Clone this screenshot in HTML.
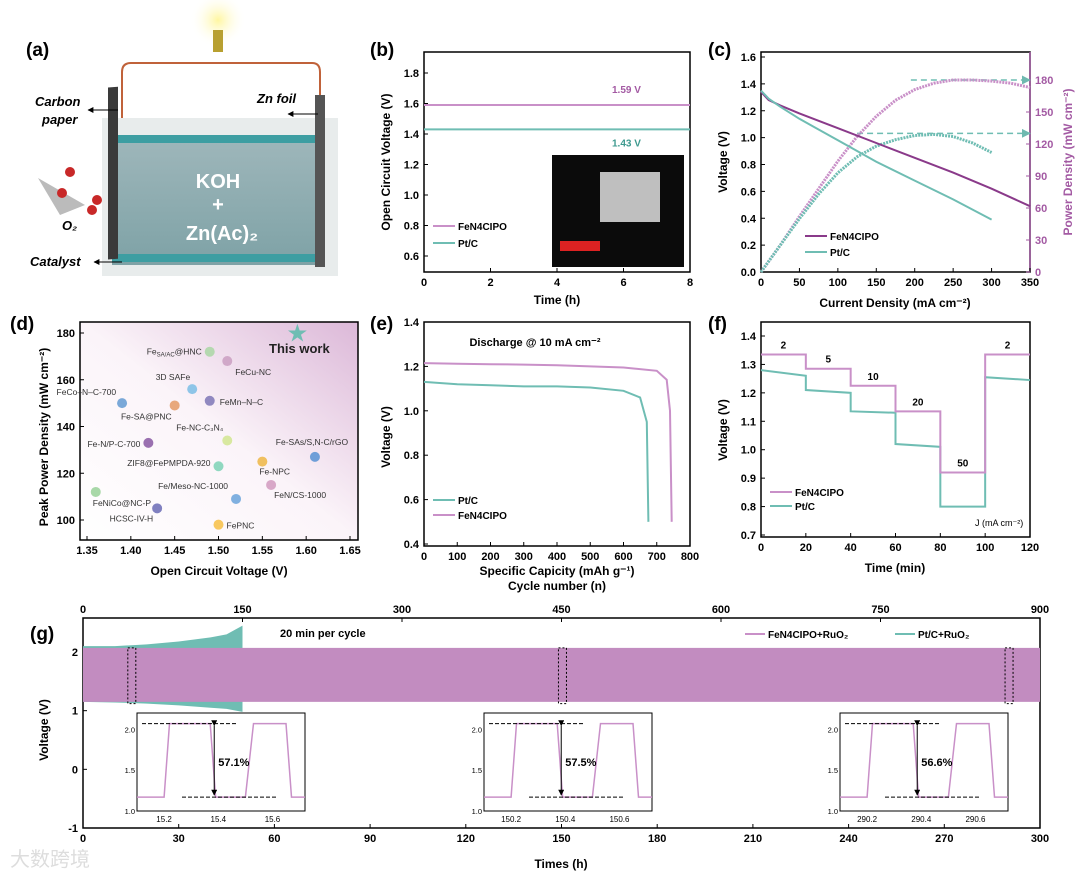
<!DOCTYPE html>
<html><head><meta charset="utf-8"><style>
body{margin:0;background:#fff}
svg text{font-family:"Liberation Sans","Noto Sans CJK SC",sans-serif}
</style></head><body>
<svg id="s" width="1080" height="876" viewBox="0 0 1080 876" xmlns="http://www.w3.org/2000/svg">
<defs>
<linearGradient id="liq" x1="0" y1="0" x2="0" y2="1"><stop offset="0" stop-color="#9fb7bb"/><stop offset="1" stop-color="#7ea2a6"/></linearGradient>
<linearGradient id="dbg" x1="0" y1="1" x2="1" y2="0"><stop offset="0" stop-color="#fff"/><stop offset="0.5" stop-color="#fbf4f9"/><stop offset="1" stop-color="#dcb8d8"/></linearGradient>
<radialGradient id="bulb"><stop offset="0" stop-color="#fff6a0"/><stop offset="1" stop-color="#fff" stop-opacity="0"/></radialGradient>
<marker id="ah" viewBox="0 0 10 10" refX="9" refY="5" markerWidth="6" markerHeight="6" orient="auto"><path d="M0,0L10,5L0,10z" fill="#000"/></marker>
<marker id="ahg" viewBox="0 0 10 10" refX="9" refY="5" markerWidth="6" markerHeight="6" orient="auto"><path d="M0,0L10,5L0,10z" fill="#6fb9b0"/></marker>
</defs>
<g>
<text x="26" y="56" font-size="19" font-weight="bold">(a)</text>
<circle cx="218" cy="20" r="28" fill="url(#bulb)"/>
<rect x="213" y="30" width="10" height="22" fill="#b8a030"/>
<path d="M122,135 V72 Q122,63 131,63 H312 Q320,63 320,72 V130" fill="none" stroke="#c0623a" stroke-width="2"/>
<rect x="102" y="118" width="236" height="158" fill="#e8ecec"/>
<rect x="112" y="135" width="212" height="130" fill="url(#liq)"/>
<rect x="112" y="135" width="212" height="8" fill="#3d9ea2"/>
<rect x="112" y="254" width="212" height="8" fill="#3d9ea2"/>
<rect x="108" y="95" width="10" height="172" fill="#3a3a3a" transform="skewY(-4)"/>
<rect x="315" y="95" width="10" height="172" fill="#555"/>
<text x="218" y="188" font-size="20" font-weight="bold" fill="#fff" text-anchor="middle">KOH</text>
<text x="218" y="211" font-size="20" font-weight="bold" fill="#fff" text-anchor="middle">+</text>
<text x="222" y="240" font-size="20" font-weight="bold" fill="#fff" text-anchor="middle">Zn(Ac)₂</text>
<text x="35" y="106" font-size="13" font-weight="bold" font-style="italic">Carbon</text>
<text x="42" y="124" font-size="13" font-weight="bold" font-style="italic">paper</text>
<line x1="118" y1="110" x2="88" y2="110" stroke="#000" marker-end="url(#ah)"/>
<text x="257" y="103" font-size="13" font-weight="bold" font-style="italic">Zn foil</text>
<line x1="318" y1="114" x2="288" y2="114" stroke="#000" marker-end="url(#ah)"/>
<text x="30" y="266" font-size="13" font-weight="bold" font-style="italic">Catalyst</text>
<line x1="122" y1="262" x2="94" y2="262" stroke="#000" marker-end="url(#ah)"/>
<text x="62" y="230" font-size="13" font-weight="bold" font-style="italic">O₂</text>
<path d="M38,178 L85,205 L60,215z" fill="#bbb"/>
<circle cx="70" cy="172" r="5" fill="#c82828"/><circle cx="62" cy="193" r="5" fill="#c82828"/><circle cx="92" cy="210" r="5" fill="#c82828"/><circle cx="97" cy="200" r="5" fill="#c82828"/>
</g>
<g id="charts"></g>
</svg>
<script>
// ---- data ----
const bTime=[0,8];
const bFe=[1.59,1.59];
const bPt=[1.43,1.43];
const cJFe=[0,10,25,50,100,150,200,250,300,350];
const cVFe=[1.34,1.28,1.24,1.18,1.07,0.96,0.85,0.74,0.62,0.49];
const cJPt=[0,10,25,50,100,150,200,250,300];
const cVPt=[1.35,1.29,1.23,1.14,0.98,0.82,0.68,0.54,0.39];
const cPJFe=[0,25,50,75,100,125,150,175,200,225,250,275,300,325,350];
const cPFe=[0,25,52,78,104,127,146,161,171,177,180,180,179,177,173];
const cPJPt=[0,25,50,75,100,125,150,175,200,225,250,275,300];
const cPPt=[0,25,50,73,93,108,118,124,128,129,127,121,112];
const dNames=["This work","Fe@HNC","FeCu-NC","3D SAFe","FeCo–N–C-700","FeMn–N–C","Fe-SA@PNC","Fe-NC-C\u2083N\u2084","Fe-N/P-C-700","Fe-SAs/S,N-C/rGO","ZIF8@FePMPDA-920","Fe-NPC","FeN/CS-1000","FeNiCo@NC-P","Fe/Meso-NC-1000","HCSC-IV-H","FePNC"];
const dOCV=[1.59,1.49,1.51,1.47,1.39,1.49,1.45,1.51,1.42,1.61,1.50,1.55,1.56,1.36,1.52,1.43,1.50];
const dPPD=[180,172,168,156,150,151,149,134,133,127,123,125,115,112,109,105,98];
const eCapPt=[0,100,200,300,400,500,600,650,670,675];
const eVPt=[1.13,1.12,1.115,1.11,1.11,1.105,1.09,1.06,0.95,0.5];
const eCapFe=[0,100,200,300,400,500,600,700,730,740,745];
const eVFe=[1.215,1.212,1.21,1.208,1.205,1.2,1.195,1.18,1.14,1.0,0.5];
const fT=[0,20,40,60,80,100,120];
const fFe=[1.335,1.285,1.225,1.135,0.92,1.335];
const fPtS=[1.28,1.21,1.135,1.02,0.80,1.255];
const fPtE=[1.26,1.20,1.13,1.01,0.80,1.245];
const fJ=["2","5","10","20","50","2"];
const gPtT=[0,10,20,30,40,45,50];
const gPtTop=[2.1,2.1,2.13,2.18,2.25,2.3,2.45];
const gPtBot=[1.15,1.14,1.12,1.09,1.05,1.03,0.98];
const gFeTop=2.07, gFeBot=1.15;
const inOff=[15.2,150.2,290.2];
const inPct=["57.1%","57.5%","56.6%"];

const NS="http://www.w3.org/2000/svg";
const G=document.getElementById('charts');
const PU="#a35aa3", PL="#c990c8", TE="#6fbdb3";
function el(t,a,p){const e=document.createElementNS(NS,t);for(const k in a)e.setAttribute(k,a[k]);(p||G).appendChild(e);return e;}
function tx(x,y,s,o,p){const e=el('text',Object.assign({x:x,y:y,'font-size':11},o||{}),p);e.textContent=s;return e;}
function lin(d0,d1,r0,r1){return v=>r0+(v-d0)*(r1-r0)/(d1-d0);}
function frame(x0,y0,x1,y1,name){const r=el('rect',{x:x0,y:y0,width:x1-x0,height:y1-y0,fill:'none',stroke:'#000','stroke-width':1.5});return r;}
function xt(sx,vals,y,fmt,top){vals.forEach(v=>{const X=sx(v);el('line',{x1:X,x2:X,y1:y,y2:top?y+4:y-4,stroke:'#000'});tx(X,top?y-5:y+14,fmt(v),{'text-anchor':'middle','font-weight':'bold','font-size':11});});}
function yt(sy,vals,x,fmt,right,col){vals.forEach(v=>{const Y=sy(v);el('line',{x1:x,x2:right?x-4:x+4,y1:Y,y2:Y,stroke:col||'#000'});tx(right?x+5:x-5,Y+4,fmt(v),{'text-anchor':right?'start':'end','font-weight':'bold','font-size':11,fill:col||'#000'});});}
function path(xs,ys,sx,sy,o){let d='';xs.forEach((v,i)=>d+=(i?'L':'M')+sx(v).toFixed(1)+','+sy(ys[i]).toFixed(1));return el('path',Object.assign({d:d,fill:'none'},o));}
function label(s,x,y){tx(x,y,s,{'font-size':19,'font-weight':'bold'});}
function ylab(s,x,y,col){tx(0,0,s,{transform:`translate(${x},${y}) rotate(-90)`,'text-anchor':'middle','font-weight':'bold','font-size':12,fill:col||'#000'});}
function leg(x,y,col,s,w){el('line',{x1:x,x2:x+(w||22),y1:y,y2:y,stroke:col,'stroke-width':2});tx(x+(w||22)+3,y+4,s,{'font-size':10,'font-weight':'bold'});}

// ---- (b) ----
{const sx=lin(0,8,424,690),sy=lin(0.6,1.8,256,73);
label('(b)',370,56);
frame(424,52,690,272,'panel-b-axes');
xt(sx,[0,2,4,6,8],272,v=>v);yt(sy,[0.6,0.8,1,1.2,1.4,1.6,1.8],424,v=>v.toFixed(1));
path(bTime,bFe,sx,sy,{stroke:PL,'stroke-width':2});
path(bTime,bPt,sx,sy,{stroke:TE,'stroke-width':2});
tx(612,sy(bFe[0])-12,'1.59 V',{'font-size':10,'font-weight':'bold',fill:PU});
tx(612,sy(bPt[0])+17,'1.43 V',{'font-size':10,'font-weight':'bold',fill:'#3e9a8f'});
const ph=el('rect',{x:552,y:155,width:132,height:112,fill:'#0b0b0b'});
el('rect',{x:600,y:172,width:60,height:50,fill:'#bfbfbf'});el('rect',{x:560,y:241,width:40,height:10,fill:'#d22'});
leg(433,226,PL,'FeN4CIPO');leg(433,243,TE,'Pt/C');
tx(557,304,'Time (h)',{'text-anchor':'middle','font-weight':'bold','font-size':12});ylab('Open Circuit Voltage (V)',390,162);}

// ---- (c) ----
{const sx=lin(0,350,761,1030),sy=lin(0,1.6,272,57),sp=lin(0,180,272,80);
label('(c)',708,56);frame(761,52,1030,272,'panel-c-axes');
el('line',{x1:1030,x2:1030,y1:52,y2:272,stroke:PU,'stroke-width':1.5});
xt(sx,[0,50,100,150,200,250,300,350],272,v=>v);yt(sy,[0,0.2,0.4,0.6,0.8,1,1.2,1.4,1.6],761,v=>v.toFixed(1));
yt(sp,[0,30,60,90,120,150,180],1030,v=>v,true,PU);
el('line',{x1:sx(195),x2:sx(350),y1:sp(180),y2:sp(180),stroke:TE,'stroke-dasharray':'6,4','stroke-width':1.5,'marker-end':'url(#ahg)'});
el('line',{x1:sx(125),x2:sx(350),y1:sp(130),y2:sp(130),stroke:TE,'stroke-dasharray':'6,4','stroke-width':1.5,'marker-end':'url(#ahg)'});
path(cPJFe,cPFe,sx,sp,{stroke:PL,'stroke-width':3,'stroke-dasharray':'2,1'});
path(cPJPt,cPPt,sx,sp,{stroke:TE,'stroke-width':3,'stroke-dasharray':'2,1'});
path(cJFe,cVFe,sx,sy,{stroke:'#8a3a8a','stroke-width':2});
path(cJPt,cVPt,sx,sy,{stroke:TE,'stroke-width':2});
leg(805,236,'#8a3a8a','FeN4CIPO');leg(805,252,TE,'Pt/C');
tx(895,307,'Current Density (mA cm\u207B\u00B2)',{'text-anchor':'middle','font-weight':'bold','font-size':12});
ylab('Voltage (V)',727,162);ylab('Power Density (mW cm\u207B\u00B2)',1072,162,PU);}

// ---- (d) ----
{const sx=lin(1.35,1.65,87,350),sy=lin(100,180,520,333);
label('(d)',10,330);
const bg=el('rect',{x:80,y:322,width:278,height:218,fill:'url(#dbg)'});
frame(80,322,358,540,'panel-d-axes');
xt(sx,[1.35,1.4,1.45,1.5,1.55,1.6,1.65],540,v=>v.toFixed(2));yt(sy,[100,120,140,160,180],80,v=>v);
const cols=[TE,'#b5d8b0','#d0a8c8','#8ec5e8','#7aa8d8','#9088c0','#e8a87c','#d8e8a0','#9a70b0','#6e9ed8','#90d8c0','#f0c060','#d8a8c8','#a8d8a8','#80b0e0','#8080c0','#f8c860'];
const lp=[[2,20,'middle'],[-8,3,'end'],[8,14,'start'],[-2,-9,'end'],[-6,-8,'end'],[10,4,'start'],[-3,14,'end'],[-4,-10,'end'],[-8,4,'end'],[-3,-12,'middle'],[-8,0,'end'],[-3,13,'start'],[3,13,'start'],[-3,14,'start'],[-8,-10,'end'],[-4,13,'end'],[8,4,'start']];
dNames.forEach((n,i)=>{const X=sx(dOCV[i]),Y=sy(dPPD[i]);
 const m=i==0?el('text',{x:X,y:Y+7,'font-size':20,fill:TE,'text-anchor':'middle'}):el('circle',{cx:X,cy:Y,r:5,fill:cols[i]});
 if(i==0)m.textContent='★';
 
 const t=el('text',{x:X+lp[i][0],y:Y+lp[i][1],'font-size':i==0?13:8.5,'font-weight':i==0?'bold':'normal','text-anchor':lp[i][2],fill:i==0?'#222':'#333'});
 if(i==1){const a=el('tspan',{},t);a.textContent='Fe';const b=el('tspan',{'font-size':6,dy:2},t);b.textContent='SA/AC';const c=el('tspan',{dy:-2},t);c.textContent='@HNC';}
 else t.textContent=n;});
tx(219,575,'Open Circuit Voltage (V)',{'text-anchor':'middle','font-weight':'bold','font-size':12});ylab('Peak Power Density (mW cm\u207B\u00B2)',48,437);}

// ---- (e) ----
{const sx=lin(0,800,424,690),sy=lin(0.4,1.4,544,322);
label('(e)',370,330);frame(424,322,690,546,'panel-e-axes');
xt(sx,[0,100,200,300,400,500,600,700,800],546,v=>v);yt(sy,[0.4,0.6,0.8,1,1.2,1.4],424,v=>v.toFixed(1));
path(eCapPt,eVPt,sx,sy,{stroke:TE,'stroke-width':2});
path(eCapFe,eVFe,sx,sy,{stroke:PL,'stroke-width':2});
tx(535,346,'Discharge @ 10 mA cm\u207B\u00B2',{'text-anchor':'middle','font-weight':'bold','font-size':11});
leg(433,500,TE,'Pt/C');leg(433,515,PL,'FeN4CIPO');
tx(557,575,'Specific Capicity (mAh g\u207B\u00B9)',{'text-anchor':'middle','font-weight':'bold','font-size':12});
tx(557,590,'Cycle number (n)',{'text-anchor':'middle','font-weight':'bold','font-size':12});
ylab('Voltage (V)',390,437);}

// ---- (f) ----
{const sx=lin(0,120,761,1030),sy=lin(0.7,1.4,535,336);
label('(f)',708,330);frame(761,322,1030,537,'panel-f-axes');
xt(sx,[0,20,40,60,80,100,120],537,v=>v);yt(sy,[0.7,0.8,0.9,1,1.1,1.2,1.3,1.4],761,v=>v.toFixed(1));
let dF='',dP='';
for(let i=0;i<fFe.length;i++){dF+=(i?'L':'M')+sx(fT[i])+','+sy(fFe[i])+'L'+sx(fT[i+1])+','+sy(fFe[i]);
 dP+=(i?'L':'M')+sx(fT[i])+','+sy(fPtS[i])+'L'+sx(fT[i+1])+','+sy(fPtE[i]);
 tx(sx((fT[i]+fT[i+1])/2),sy(fFe[i])-6,fJ[i],{'text-anchor':'middle','font-size':10,'font-weight':'bold'});}
el('path',{d:dP,fill:'none',stroke:TE,'stroke-width':2});
el('path',{d:dF,fill:'none',stroke:PL,'stroke-width':2});
leg(770,492,PL,'FeN4CIPO');leg(770,506,TE,'Pt/C');
tx(975,526,'J (mA cm\u207B\u00B2)',{'font-size':9});
tx(895,572,'Time (min)',{'text-anchor':'middle','font-weight':'bold','font-size':12});ylab('Voltage (V)',727,430);}

// ---- (g) ----
{const sx=lin(0,300,83,1040),sc=lin(0,900,83,1040),sy=lin(-1,2,828,652);
tx(30,640,'(g)',{'font-size':19,'font-weight':'bold'});frame(83,618,1040,828,'panel-g-axes');
xt(sx,[0,30,60,90,120,150,180,210,240,270,300],828,v=>v);xt(sc,[0,150,300,450,600,750,900],618,v=>v,true);
yt(sy,[-1,0,1,2],83,v=>v);
let d='M'+sx(gPtT[0])+','+sy(gPtTop[0]);gPtT.forEach((t,i)=>d+='L'+sx(t)+','+sy(gPtTop[i]));
for(let i=gPtT.length-1;i>=0;i--)d+='L'+sx(gPtT[i])+','+sy(gPtBot[i]);
el('path',{d:d+'Z',fill:TE});
el('rect',{x:sx(0),y:sy(gFeTop),width:sx(300)-sx(0),height:sy(gFeBot)-sy(gFeTop),fill:'#c28cc0'});
tx(280,637,'20 min per cycle',{'font-size':11,'font-weight':'bold'});
leg(745,634,PL,'FeN4CIPO+RuO\u2082',20);leg(895,634,TE,'Pt/C+RuO\u2082',20);
inOff.forEach((o,k)=>{const cx=sx(o+0.1);el('rect',{x:cx-4,y:sy(2.07),width:8,height:sy(1.12)-sy(2.07),fill:'none',stroke:'#000','stroke-dasharray':'2,2'});});
const ix=[137,484,840];
ix.forEach((x0,k)=>{const w=168,y0=713,y1=811,isx=lin(inOff[k]-0.1,inOff[k]+0.52,x0,x0+w),isy=lin(1,2.2,y1,y0);
 el('rect',{x:x0,y:y0,width:w,height:y1-y0,fill:'#fff',stroke:'#000'});
 [1,1.5,2].forEach(v=>tx(x0-2,isy(v)+3,v.toFixed(1),{'font-size':7.5,'text-anchor':'end'}));
 [0.1,0.3,0.5].forEach((dv,j)=>tx(isx(inOff[k]+dv-0.1),y1+11,(inOff[k]+0.2*j).toFixed(1),{'font-size':8,'text-anchor':'middle'}));
 const o=inOff[k]-0.1,ts=[0,0.1,0.12,0.27,0.29,0.4,0.43,0.55,0.57,0.62],vs=[1.17,1.17,2.07,2.07,1.17,1.17,2.07,2.07,1.17,1.17];
 path(ts.map(t=>o+t),vs,isx,isy,{stroke:PL,'stroke-width':1.5});
 el('line',{x1:x0+5,x2:x0+100,y1:isy(2.07),y2:isy(2.07),stroke:'#000','stroke-dasharray':'4,2'});
 el('line',{x1:x0+45,x2:x0+140,y1:isy(1.17),y2:isy(1.17),stroke:'#000','stroke-dasharray':'4,2'});
 const ax=isx(o+0.285);el('line',{x1:ax,x2:ax,y1:isy(2.07)+2,y2:isy(1.17)-2,stroke:'#000','marker-end':'url(#ah)','marker-start':'url(#ah)'});
 tx(ax+4,isy(1.55),inPct[k],{'font-size':11,'font-weight':'bold'});});
tx(561,868,'Times (h)',{'text-anchor':'middle','font-weight':'bold','font-size':12});
ylab('Voltage (V)',48,730);
tx(10,866,'大数跨境',{'font-size':20,fill:'#ddd'});}
</script>
</body></html>
